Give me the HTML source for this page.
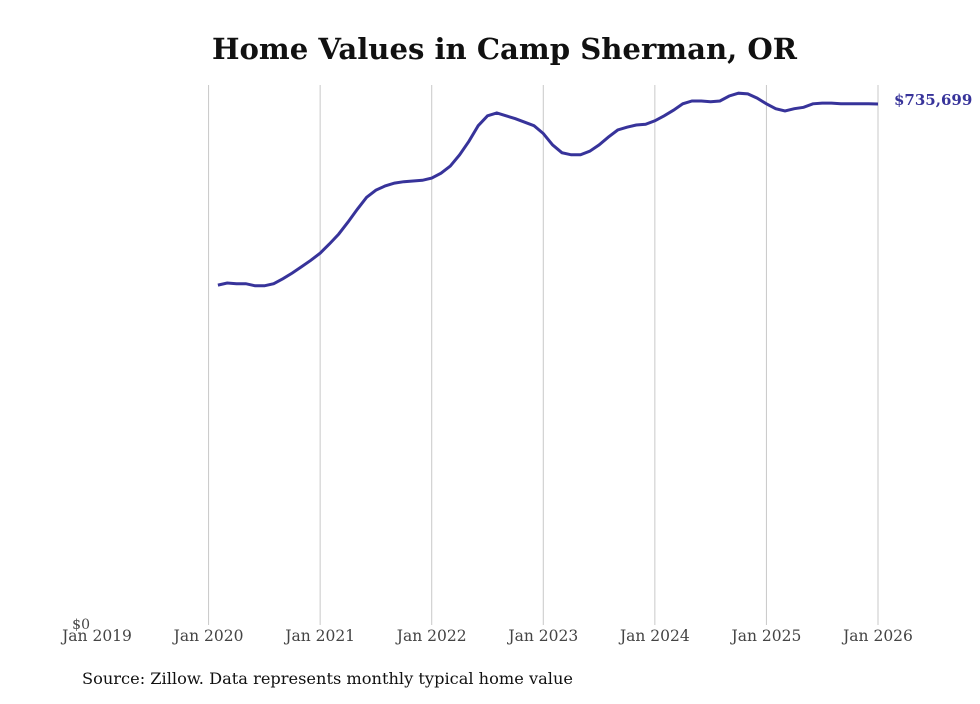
<!DOCTYPE html>
<html><head><meta charset="utf-8"><style>
body{margin:0;background:#fff;width:980px;height:699px;overflow:hidden;}
svg text{font-family:"DejaVu Serif","Liberation Serif",serif;}
</style></head><body>
<svg id="chart" width="980" height="699">
<text x="212" y="59" textLength="585" lengthAdjust="spacingAndGlyphs" font-size="29" font-weight="bold" fill="#111">Home Values in Camp Sherman, OR</text>
<g id="grid"></g><g id="xt"></g>
<text x="90" y="629" text-anchor="end" font-size="14" fill="#444">$0</text>
<path id="line" fill="none" stroke="#37339a" stroke-width="3"/>
<text id="endlbl" font-size="15" font-weight="bold" fill="#37339a"></text>
<text x="82" y="684" textLength="491" lengthAdjust="spacingAndGlyphs" font-size="16" fill="#111">Source: Zillow. Data represents monthly typical home value</text>
</svg>
<script>
const years=["Jan 2019","Jan 2020","Jan 2021","Jan 2022","Jan 2023","Jan 2024","Jan 2025","Jan 2026"];
const startMonth=13; // months since Jan 2019 (Feb 2020)
const values=[480,483,482,482,479,479,482,489,497,506,515,525,538,552,569,587,604,614,620,624,626,627,628,631,638,648,664,683,705,719,723,719,715,710,705,694,678,667,664,664,669,678,689,699,703,706,707,712,719,727,736,740,740,739,740,747,751,750,744,736,729,726,729,731,736,737,737,736,736,736,736,735.699];
const lastLabel="$735,699";
const x=m=>97+m*(781/84);
const y=v=>625-v*(521/735.699);
const ns="http://www.w3.org/2000/svg";
const grid=document.getElementById('grid'),xt=document.getElementById('xt');
years.forEach((t,i)=>{
 const xx=x(i*12);
 if(i>0){const l=document.createElementNS(ns,'line');
 l.setAttribute('x1',xx);l.setAttribute('x2',xx);l.setAttribute('y1',85);l.setAttribute('y2',625);
 l.setAttribute('stroke','#c8c8c8');l.setAttribute('stroke-width','1');
 
 
 grid.appendChild(l);}
 const tx=document.createElementNS(ns,'text');
 tx.setAttribute('x',xx);tx.setAttribute('y',641);tx.setAttribute('text-anchor','middle');
 tx.setAttribute('font-size','15.5');tx.setAttribute('fill','#444');tx.textContent=t;
 
 
 xt.appendChild(tx);
});
let d='';
values.forEach((v,i)=>{d+=(i?'L':'M')+x(startMonth+i).toFixed(1)+','+y(v).toFixed(1);});
document.getElementById('line').setAttribute('d',d);
const el=document.getElementById('endlbl');
const lv=values[values.length-1];
el.setAttribute('x',x(startMonth+values.length-1)+16);
el.setAttribute('y',y(lv)+1);
el.textContent=lastLabel;
</script>
</body></html>
